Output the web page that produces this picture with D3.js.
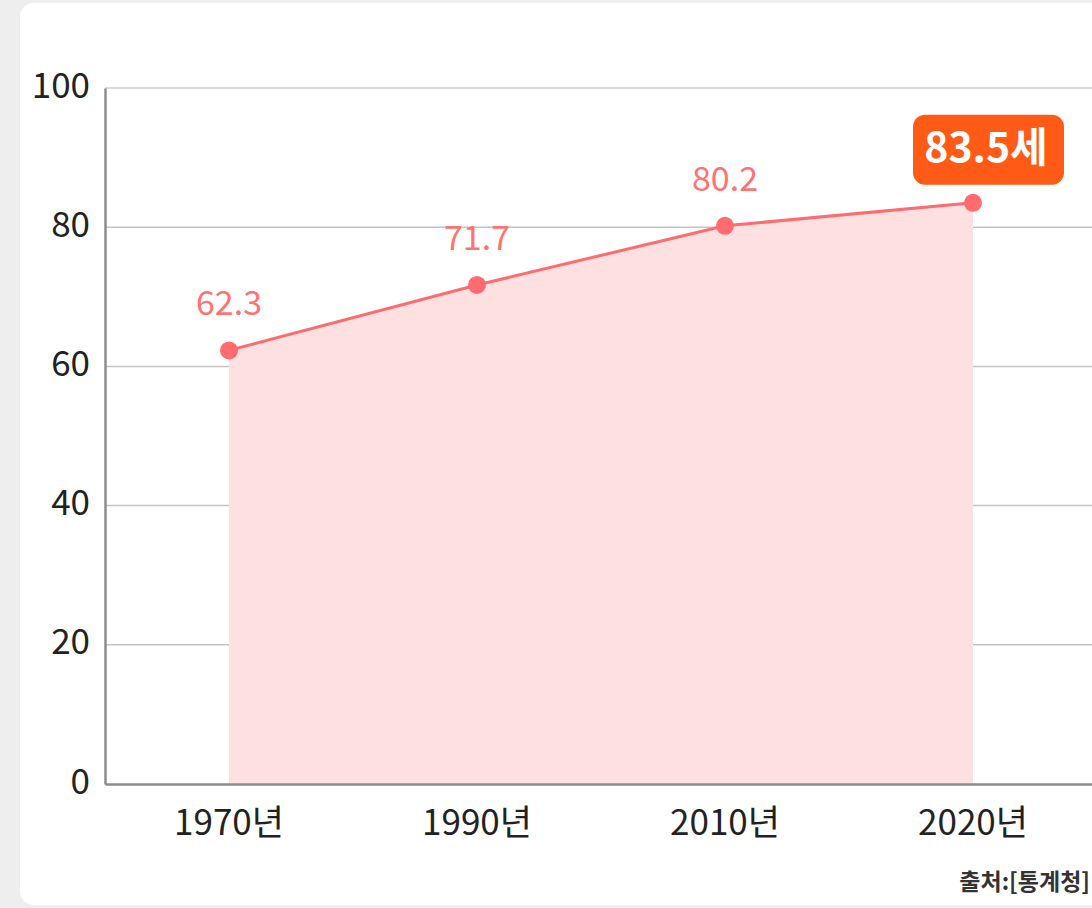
<!DOCTYPE html>
<html>
<head>
<meta charset="utf-8">
<script src="https://cdn.jsdelivr.net/npm/d3@7"></script>
<style>
  body { margin: 0; background: #eeeeee; overflow: hidden; }
  .chart { font-family: 'Noto Sans CJK KR', 'Noto Sans', sans-serif; }
</style>
</head>
<body>
<div class="chart"></div>
<script>
// DATA ------------------------------
const years = ['1970년', '1990년', '2010년', '2020년'];
const lifeExpectancy = [62.3, 71.7, 80.2, 83.5];
const yTicks = [0, 20, 40, 60, 80, 100];
const highlightLabel = '83.5세';
const sourceLabel = '출처:[통계청]';

const data = years.map((y, i) => ({ year: y, value: lifeExpectancy[i] }));

// CHART INIT ------------------------
const W = 1092, H = 908;
const margin = { top: 88, right: -5, bottom: 124, left: 105 };
const width = W - margin.left - margin.right;
const height = H - margin.top - margin.bottom;

const svg = d3.select('.chart').append('svg')
  .attr('width', W)
  .attr('height', H);

// white card
svg.append('rect')
  .attr('x', 20).attr('y', 3)
  .attr('width', W + 40).attr('height', 902)
  .attr('rx', 14)
  .attr('fill', '#fff');

const g = svg.append('g')
  .attr('transform', 'translate(' + margin.left + ',' + margin.top + ')');

const xScale = d3.scaleBand().domain(years).range([0, width]);
const yScale = d3.scaleLinear().domain([0, 100]).range([height, 0]);
const cx = (d) => xScale(d.year) + xScale.bandwidth() / 2;

// grid
g.selectAll('.grid').data(yTicks.filter((t) => t > 0)).enter().append('line')
  .attr('x1', 0).attr('x2', width)
  .attr('y1', (d) => yScale(d)).attr('y2', (d) => yScale(d))
  .attr('stroke', (d) => d === 100 ? '#cfcfcf' : '#c4c4c4')
  .attr('stroke-width', 1.5);

// area
const area = d3.area().x(cx).y0(yScale(0)).y1((d) => yScale(d.value));
g.append('path').datum(data)
  .attr('d', area)
  .attr('fill', '#fee0e1');

// axes
const yAxis = d3.axisLeft(yScale).tickValues(yTicks).tickSize(0).tickPadding(15);
const yAxisGroup = g.append('g').call(yAxis);
yAxisGroup.select('.domain').attr('stroke', '#8c8c8c').attr('stroke-width', 2.5);
yAxisGroup.selectAll('text')
  .attr('font-size', 35).attr('fill', '#222')
  .attr('font-family', "'Noto Sans CJK KR', sans-serif")
  .attr('dy', '9px');

const xAxis = d3.axisBottom(xScale).tickSize(0).tickPadding(20);
const xAxisGroup = g.append('g').attr('transform', 'translate(0,' + height + ')').call(xAxis);
xAxisGroup.select('.domain').attr('stroke', '#8c8c8c').attr('stroke-width', 2.5);
xAxisGroup.selectAll('text')
  .attr('font-size', 35).attr('fill', '#222')
  .attr('font-family', "'Noto Sans CJK KR', sans-serif")
  .attr('dy', '31px');

// line + dots
const line = d3.line().x(cx).y((d) => yScale(d.value));
g.append('path').datum(data)
  .attr('d', line)
  .attr('fill', 'none')
  .attr('stroke', '#ff6b6e')
  .attr('stroke-width', 3);

g.selectAll('.dot').data(data).enter().append('circle')
  .attr('cx', cx).attr('cy', (d) => yScale(d.value))
  .attr('r', 9)
  .attr('fill', '#ff6b6e');

// value labels (last one highlighted)
const last = data[data.length - 1];
g.selectAll('.val').data(data.slice(0, -1)).enter().append('text')
  .attr('x', cx).attr('y', (d) => yScale(d.value) - 35)
  .attr('text-anchor', 'middle')
  .attr('font-size', 34)
  .attr('fill', '#ff7373')
  .text((d) => d.value);

const bx = cx(last), by = yScale(last.value);
g.append('rect')
  .attr('x', bx - 60).attr('y', by - 88)
  .attr('width', 151).attr('height', 70)
  .attr('rx', 12)
  .attr('fill', '#ff5a16');
g.append('text')
  .attr('x', bx + 13).attr('y', by - 41)
  .attr('text-anchor', 'middle')
  .attr('font-size', 41).attr('font-weight', 'bold')
  .attr('fill', '#fff')
  .text(highlightLabel);

// source
svg.append('text')
  .attr('x', 1090).attr('y', 890)
  .attr('text-anchor', 'end')
  .attr('font-size', 23).attr('font-weight', 'bold')
  .attr('fill', '#333')
  .text(sourceLabel);
</script>
</body>
</html>
